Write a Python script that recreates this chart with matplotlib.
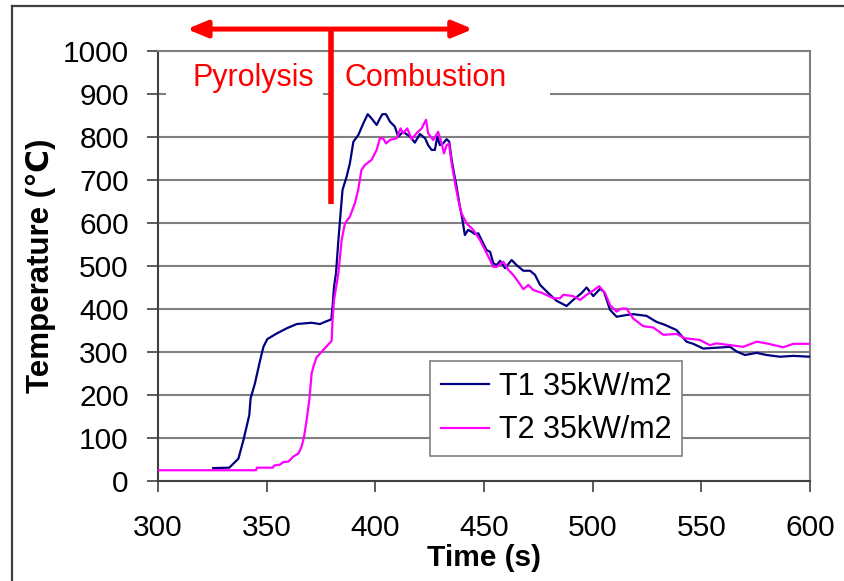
import numpy as np
import matplotlib
matplotlib.use("Agg")
import matplotlib.pyplot as plt
from matplotlib.patches import Rectangle
from matplotlib.lines import Line2D

plt.rcParams['font.family'] = ['Liberation Sans', 'DejaVu Sans']

# thermocouple T1 (navy), 35 kW/m2
t1 = [325.4, 332.8, 337.0, 339.3, 342.0, 342.6, 344.6, 347.0, 348.5, 350.3,
      354.6, 359.2, 363.8, 370.7, 374.5, 376.8, 379.8, 380.0, 380.3, 381.0,
      381.9, 383.0, 384.0, 384.9, 386.8, 388.3, 389.9, 392.2, 394.5, 396.5,
      398.3, 400.6, 402.1, 403.2, 404.9, 406.7, 409.0, 410.5, 412.8, 415.9,
      418.2, 420.5, 422.9, 424.3, 425.9, 427.4, 428.5, 429.7, 431.2, 432.8,
      434.0, 435.1, 436.2, 437.4, 438.9, 440.1, 441.2, 442.7, 444.2, 445.8,
      447.4, 448.9, 451.2, 452.8, 454.3, 455.8, 457.4, 459.7, 462.7, 465.0,
      468.1, 471.2, 473.5, 475.8, 479.6, 483.4, 488.0, 491.0, 494.9, 497.2,
      500.3, 503.4, 505.2, 508.0, 511.0, 515.6, 518.6, 524.8, 529.4, 533.3,
      538.6, 543.2, 546.3, 550.9, 557.0, 563.2, 566.3, 570.1, 575.5, 580.0,
      586.2, 592.3, 600.0]
T1 = [30, 31, 52, 95, 153, 192, 227, 281, 312, 330,
      343, 355, 365, 368, 365, 370, 376, 390, 405, 452,
      483, 560, 622, 677, 708, 739, 789, 805, 832, 853,
      843, 828, 843, 853, 853, 836, 824, 801, 812, 801,
      787, 807, 797, 781, 770, 770, 801, 781, 785, 795,
      789, 747, 716, 684, 638, 607, 572, 584, 580, 574,
      576, 560, 537, 533, 506, 502, 512, 495, 514, 502,
      489, 489, 479, 456, 437, 419, 407, 421, 437, 450,
      430, 447, 440, 398, 382, 386, 388, 384, 370, 363,
      351, 324, 319, 308, 310, 312, 301, 293, 298, 293,
      289, 291, 289]

# thermocouple T2 (magenta), 35 kW/m2
t2 = [300.0, 345.1, 345.5, 352.8, 353.4, 356.1, 357.7, 360.0, 362.3, 364.6,
      366.1, 367.2, 368.4, 369.6, 370.7, 371.5, 373.0, 376.1, 379.9, 380.3,
      381.0, 383.0, 384.5, 386.0, 388.3, 390.6, 392.1, 393.6, 395.2, 398.3,
      400.6, 402.1, 403.6, 404.9, 406.7, 409.8, 411.6, 412.8, 414.7, 416.7,
      419.0, 421.3, 423.3, 424.3, 426.6, 428.9, 430.5, 431.6, 432.8, 433.9,
      435.1, 436.7, 438.2, 439.7, 442.0, 445.1, 448.2, 451.2, 454.3, 455.8,
      458.9, 461.2, 463.5, 465.8, 468.1, 470.4, 472.7, 476.5, 481.9, 485.0,
      486.5, 491.0, 494.2, 497.2, 500.3, 503.0, 505.7, 508.0, 511.0, 513.3,
      515.6, 518.6, 523.3, 527.9, 532.5, 538.6, 542.4, 549.3, 553.9, 557.0,
      563.2, 569.3, 575.5, 580.0, 587.7, 592.3, 600.0]
T2 = [25, 25, 31, 31, 36, 38, 44, 45, 57, 64,
      80, 103, 142, 188, 250, 266, 288, 305, 326, 374,
      421, 483, 560, 599, 615, 646, 677, 723, 735, 747,
      770, 797, 797, 785, 793, 797, 820, 809, 820, 795,
      809, 820, 840, 809, 793, 812, 785, 762, 781, 785,
      739, 692, 653, 622, 599, 584, 560, 530, 498, 498,
      510, 491, 479, 463, 446, 456, 444, 438, 425, 425,
      433, 430, 421, 433, 443, 453, 437, 409, 394, 401,
      401, 378, 360, 357, 340, 342, 332, 328, 316, 320,
      316, 312, 324, 320, 311, 319, 319]

labels = ['T1 35kW/m2', 'T2 35kW/m2']
colors = ['#000080', '#FF00FF']

W, H = 844, 581
fig = plt.figure(figsize=(W / 100, H / 100), dpi=100)
ax = fig.add_axes([158 / W, 100 / H, 652 / W, 430 / H])

ax.plot(t1, T1, color=colors[0], lw=1.6, label=labels[0], zorder=3)
ax.plot(t2, T2, color=colors[1], lw=1.6, label=labels[1], zorder=3)

ax.set_xlim(300, 600)
ax.set_ylim(0, 1000)
ax.set_xticks(np.arange(300, 601, 50))
ax.set_yticks(np.arange(0, 1001, 100))
ax.yaxis.grid(True, color='#808080', lw=1.5)
ax.set_axisbelow(True)

for s in ['top', 'right']:
    ax.spines[s].set_color('#808080')
    ax.spines[s].set_linewidth(1.5)
for s in ['left', 'bottom']:
    ax.spines[s].set_color('#404040')
    ax.spines[s].set_linewidth(1.5)
ax.tick_params(axis='both', direction='out', length=8, width=1.2,
               color='#404040', labelsize=21.5, pad=13)
ax.tick_params(axis='x', pad=16)

ax.set_xlabel('Time (s)', fontsize=21.5, fontweight='bold', labelpad=1)
ax.set_ylabel('Temperature (\u2103)', fontsize=22.5, fontweight='bold', labelpad=5)

leg = ax.legend(loc='lower left', bbox_to_anchor=(0.417, 0.058),
                borderaxespad=0, fontsize=22, fancybox=False, framealpha=1,
                edgecolor='#808080', handlelength=1.6, handletextpad=0.3,
                borderpad=0.35, labelspacing=0.45)
leg.get_frame().set_linewidth(1.2)

# white boxes behind the phase labels hide the 900 gridline
ax.add_patch(Rectangle((303.7, 851), 72.2, 128, facecolor='white',
                       edgecolor='none', zorder=2))
ax.add_patch(Rectangle((379.6, 851), 100.8, 128, facecolor='white',
                       edgecolor='none', zorder=2))
ax.text(316.1, 938, 'Pyrolysis', color='red', fontsize=22,
        va='center', ha='left', zorder=4)
ax.text(386.0, 938, 'Combustion', color='red', fontsize=22,
        va='center', ha='left', zorder=4)

# phase arrow and divider
ax.annotate('', xy=(313.3, 1051), xytext=(444.9, 1051),
            arrowprops=dict(arrowstyle='<|-|>,head_length=0.6,head_width=0.25',
                            mutation_scale=20, color='red', lw=3.6,
                            shrinkA=0, shrinkB=0),
            annotation_clip=False, zorder=5)
ax.plot([379.6, 379.6], [1051, 644], color='red', lw=4,
        solid_capstyle='butt', clip_on=False, zorder=5)

# outer frame
fig.add_artist(Line2D([12 / W, 12 / W], [0, 1 - 6 / H], color='#404040',
                      lw=1.6, transform=fig.transFigure))
fig.add_artist(Line2D([12 / W, 1], [1 - 6 / H, 1 - 6 / H], color='#404040',
                      lw=1.6, transform=fig.transFigure))

fig.savefig('out.png', dpi=100)
